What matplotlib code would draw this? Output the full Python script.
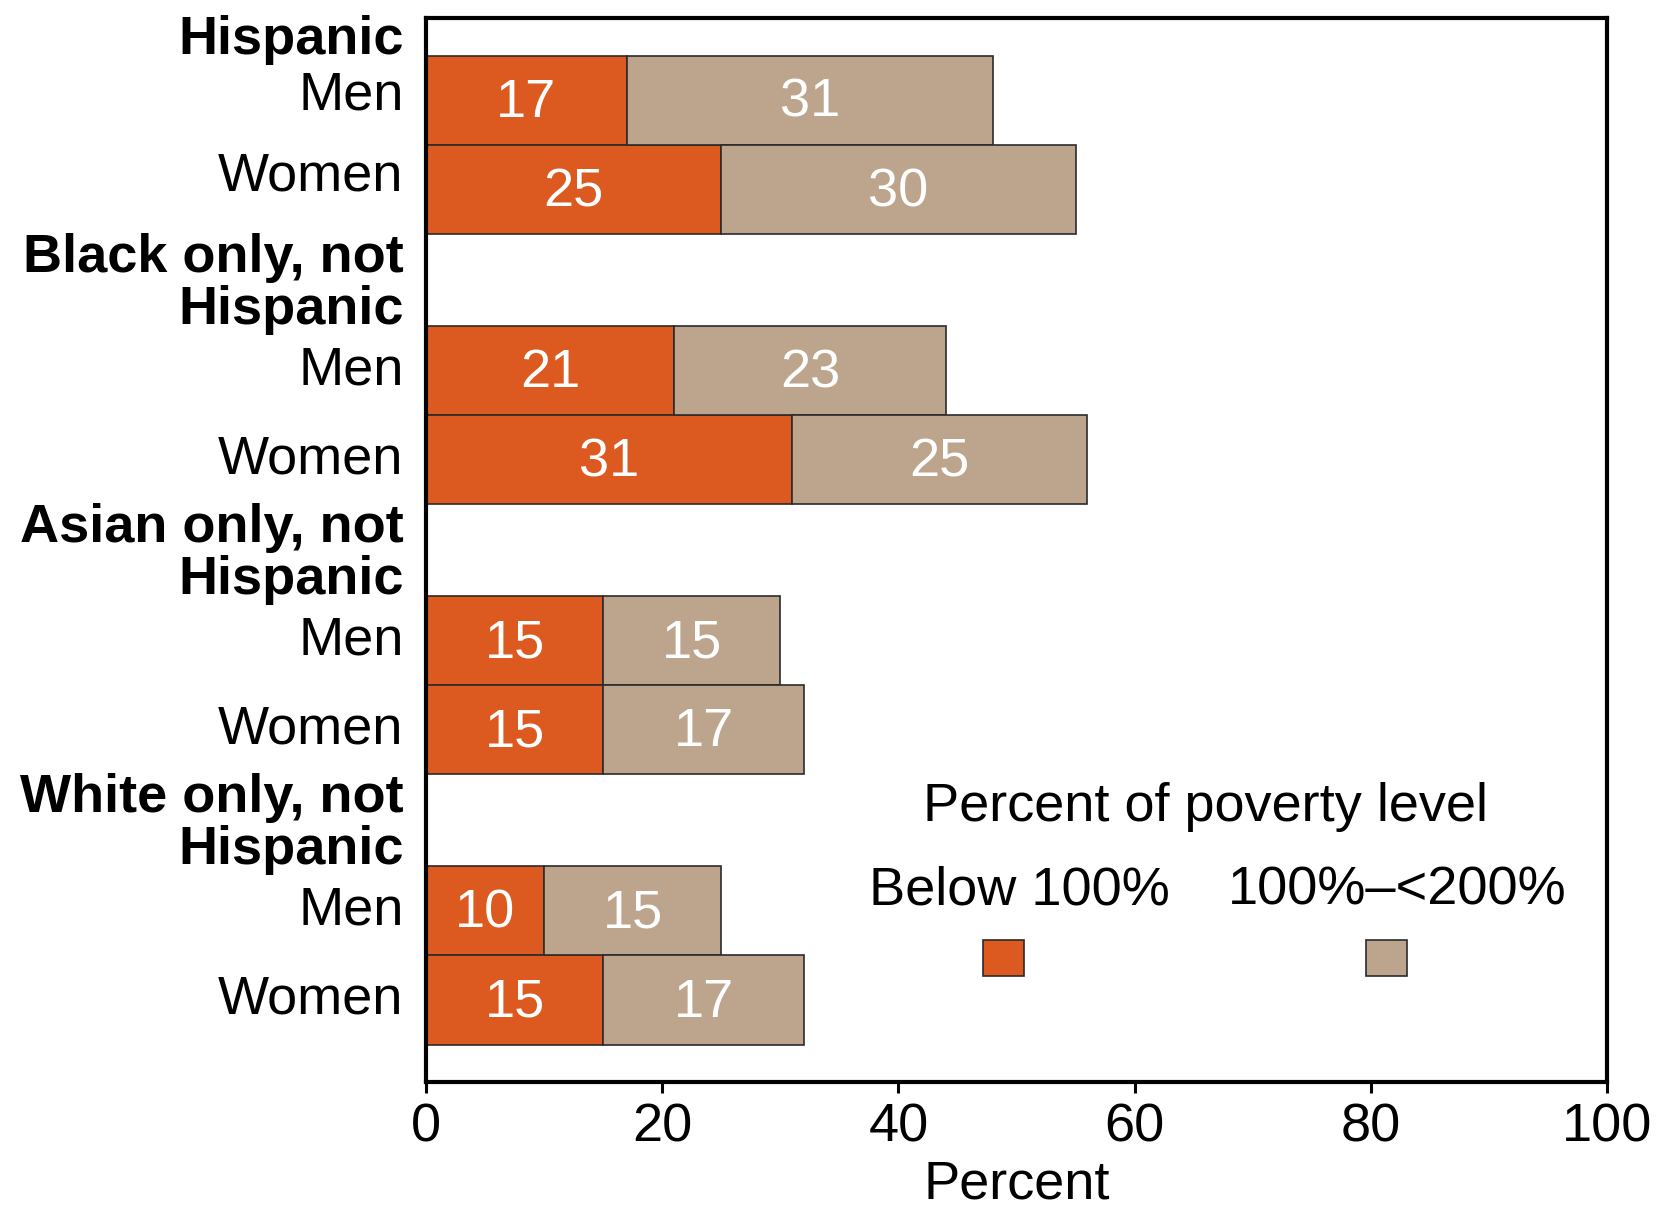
import matplotlib
matplotlib.use("Agg")
import matplotlib.pyplot as plt
from matplotlib.patches import Rectangle

plt.rcParams['font.family'] = ['Liberation Sans', 'DejaVu Sans']

# Data
groups = ["Hispanic", "Black only, not\nHispanic", "Asian only, not\nHispanic", "White only, not\nHispanic"]
sexes = ["Men", "Women"]
below_100 = [17, 25, 21, 31, 15, 15, 10, 15]
from_100_to_200 = [31, 30, 23, 25, 15, 17, 15, 17]
legend_title = "Percent of poverty level"
series_names = ["Below 100%", "100%\u2013<200%"]
x_ticks = [0, 20, 40, 60, 80, 100]
x_label = "Percent"

colors = ["#DC5A1F", "#BCA58C"]
edge = "#2b2b2b"
FS = 39

fig = plt.figure(figsize=(16.65, 12.12), dpi=100)
ax = fig.add_axes([0.2559, 0.1073, 0.7093, 0.8777])

# Bar positions: two bars per group, groups separated by a gap
group_pitch = 3.03
first = 0.92
ypos = []
for g in range(len(groups)):
    for s in range(len(sexes)):
        ypos.append(first + g * group_pitch + s)

ax.barh(ypos, below_100, height=1.0, color=colors[0], edgecolor=edge, linewidth=1.2)
ax.barh(ypos, from_100_to_200, left=below_100, height=1.0, color=colors[1], edgecolor=edge, linewidth=1.2)

for y, a, b in zip(ypos, below_100, from_100_to_200):
    ax.text(a / 2, y + 0.03, str(a), ha='center', va='center', color='white', fontsize=FS)
    ax.text(a + b / 2, y + 0.03, str(b), ha='center', va='center', color='white', fontsize=FS)

ax.set_xlim(0, 100)
ax.set_ylim(11.93, 0)
ax.set_yticks([])
ax.set_xticks(x_ticks)
ax.set_xticklabels([str(t) for t in x_ticks], fontsize=FS)
ax.tick_params(axis='x', direction='out', length=8, width=2.2, pad=7)
for sp in ax.spines.values():
    sp.set_linewidth(3.0)
ax.set_xlabel(x_label, fontsize=FS, labelpad=5)

# Row labels (the top group's rows sit a little higher)
lab_x = -0.019
row_shift = [-0.05, -0.15, 0, 0, 0, 0, 0, 0]
for i, y in enumerate(ypos):
    ax.text(lab_x, y + row_shift[i], sexes[i % 2], transform=ax.get_yaxis_transform(),
            ha='right', va='center', fontsize=FS)
for g, name in enumerate(groups):
    y_men = ypos[2 * g]
    ax.text(lab_x, y_men - 0.40, name, transform=ax.get_yaxis_transform(),
            ha='right', va='bottom', fontsize=FS, fontweight='bold', linespacing=1.05)

# Legend
ax.text(0.660, 0.2585, legend_title, transform=ax.transAxes, ha='center', va='center', fontsize=FS)
label_x = [0.502, 0.822]
patch_x = [0.4717, 0.796]
for name, lx, px, c in zip(series_names, label_x, patch_x, colors):
    ax.text(lx, 0.180, name, transform=ax.transAxes, ha='center', va='center', fontsize=FS)
    ax.add_patch(Rectangle((px, 0.0996), 0.035, 0.034, transform=ax.transAxes,
                           facecolor=c, edgecolor=edge, linewidth=1.2, clip_on=False))

fig.savefig("out.png", dpi=100)
